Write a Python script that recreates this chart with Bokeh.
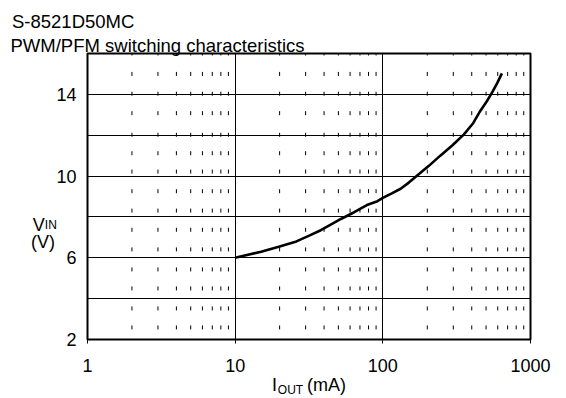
import math
from bokeh.plotting import figure
from bokeh.models import FixedTicker, BasicTickFormatter, Label
from bokeh.embed import file_html
from bokeh.resources import INLINE

# ---- data ----
iout_ma = [10, 15, 20, 26, 32, 38, 45, 52, 64, 78, 92, 100, 115, 132, 150, 171, 205, 245, 295, 353, 410, 458, 505, 550, 595, 640]
vin_v = [6.0, 6.3, 6.55, 6.8, 7.1, 7.35, 7.65, 7.9, 8.23, 8.58, 8.77, 8.93, 9.15, 9.38, 9.68, 10.03, 10.5, 11.0, 11.5, 12.03, 12.6, 13.2, 13.65, 14.1, 14.55, 15.03]

x_ticks = [1, 10, 100, 1000]
y_ticks = [2, 6, 10, 14]
x_grid = [10, 100]
y_grid = [4, 6, 8, 10, 12, 14]
minor_factors = [2, 3, 4, 5, 6, 7, 8, 9]
decades = [1, 10, 100]
minor_y = [2.59, 3.52, 4.5, 5.43, 6.41, 7.37, 8.31, 9.26, 10.22, 11.12, 12.02, 13.08, 14.03, 15.0, 16.0]

title_1 = "S-8521D50MC"
title_2 = "PWM/PFM switching characteristics"
x_label_main = "I\u00a0\u00a0\u00a0\u00a0\u00a0\u00a0(mA)"
x_label_sub = "OUT"
y_label_main = "V"
y_label_sub = "IN"
y_label_unit = "(V)"

FONT = "Liberation Sans"
FS = "18px"
FS_TITLE = "18.5px"
FS_SUB = "12px"

p = figure(width=566, height=398, x_axis_type="log", x_range=(1, 1000), y_range=(2, 16),
           output_backend="svg", toolbar_location=None,
           min_border_left=87, min_border_top=53, min_border_right=36, min_border_bottom=59)
p.background_fill_color = "white"
p.border_fill_color = "white"
p.outline_line_color = "black"
p.outline_line_width = 2
p.outline_line_alpha = 1.0

# grids
p.xgrid.ticker = FixedTicker(ticks=x_grid)
p.ygrid.ticker = FixedTicker(ticks=y_grid)
for g in (p.xgrid, p.ygrid):
    g.grid_line_color = "black"
    g.grid_line_width = 1
    g.grid_line_alpha = 1.0

# axes
p.xaxis.ticker = FixedTicker(ticks=x_ticks)
p.xaxis.formatter = BasicTickFormatter()
p.yaxis.ticker = FixedTicker(ticks=y_ticks)
for ax in (p.xaxis, p.yaxis):
    ax.axis_line_color = None
    ax.minor_tick_line_color = None
    ax.major_label_text_font = FONT
    ax.major_label_text_font_size = FS
    ax.major_label_text_color = "black"
p.xaxis.major_tick_line_color = "black"
p.xaxis.major_tick_out = 4
p.xaxis.major_tick_in = 0
p.xaxis.major_label_standoff = 15
p.xaxis.axis_label = x_label_main
p.xaxis.axis_label_text_font = FONT
p.xaxis.axis_label_text_font_size = FS
p.xaxis.axis_label_text_font_style = "normal"
p.xaxis.axis_label_text_color = "black"
p.xaxis.axis_label_standoff = 0
p.yaxis.major_tick_line_color = None
p.yaxis.major_tick_out = 0
p.yaxis.major_tick_in = 0
p.yaxis.major_label_standoff = 11

# minor dash marks
mx, my = [], []
for d in decades:
    for f in minor_factors:
        for yv in minor_y:
            mx.append(d * f)
            my.append(yv)
p.scatter(x=mx, y=my, marker="dash", size=4, angle=math.pi / 2,
          line_color="black", line_width=1)

# curve
p.line(x=iout_ma, y=vin_v, line_color="black", line_width=2.6)


def lab(text, x, y, side, size=FS):
    p.add_layout(Label(x=x, y=y, x_units="canvas", y_units="canvas", text=text,
                       text_font=FONT, text_font_size=size, text_color="black",
                       text_baseline="alphabetic", text_align="left"), side)

# titles
lab(title_1, 11.5, 21, "above", FS_TITLE)
lab(title_2, 10.0, 44.5, "above", FS_TITLE)
# y label
lab(y_label_main, 32.3, 224.5, "left")
lab(y_label_sub, 44.3, 224.5, "left", FS_SUB)
lab(y_label_unit, 30.4, 241, "left")
# x label subscript
lab(x_label_sub, 277.3, 389, "right", FS_SUB)

open("out.html", "w").write(file_html(p, INLINE))
